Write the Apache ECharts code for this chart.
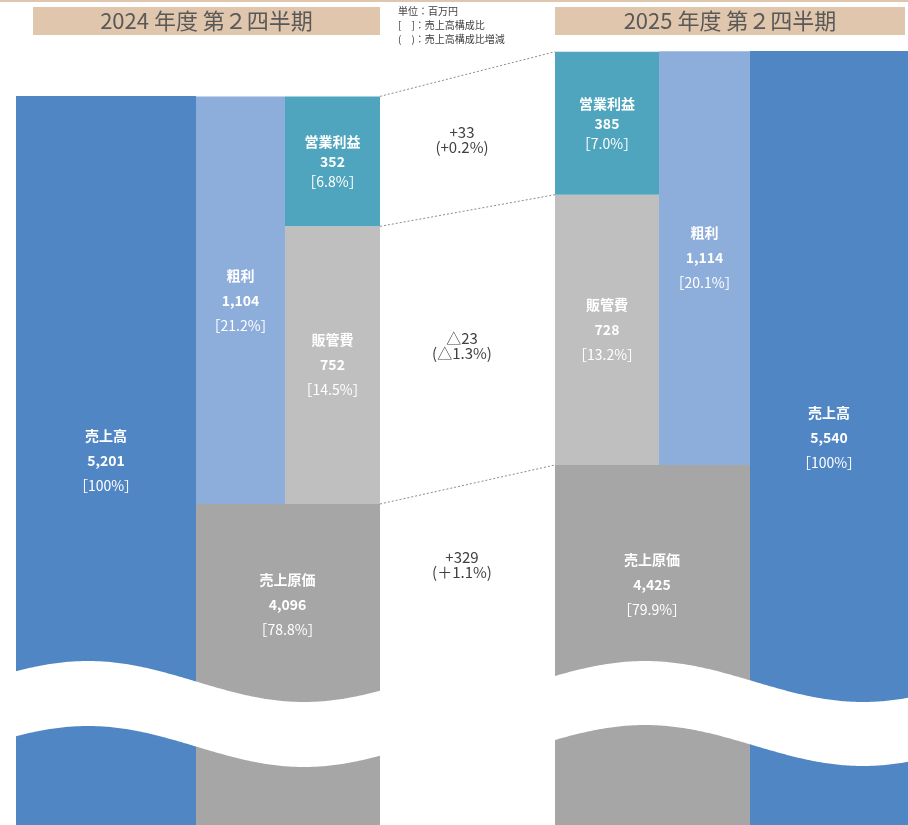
<!DOCTYPE html>
<html><head><meta charset="utf-8">
<script src="https://cdn.jsdelivr.net/npm/echarts@6/dist/echarts.min.js"></script>
<style>html,body{margin:0;padding:0;background:#fff}#c{width:908px;height:825px}</style>
</head><body><div id="c"></div>
<script>
// ---- data ----
const periods = ['2024 年度 第２四半期', '2025 年度 第２四半期'];
const sales = [5201, 5540];
const costOfSales = [4096, 4425];
const grossProfit = [1104, 1114];
const sgaExpenses = [752, 728];
const operatingProfit = [352, 385];
const salesRatio = ['100%', '100%'];
const costRatio = ['78.8%', '79.9%'];
const grossRatio = ['21.2%', '20.1%'];
const sgaRatio = ['14.5%', '13.2%'];
const opRatio = ['6.8%', '7.0%'];
const changeAmount = ['+33', '△23', '+329'];
const changeRatio = ['(+0.2%)', '(△1.3%)', '(＋1.1%)'];
const noteLines = ['単位：百万円', '[　]：売上高構成比', '(　)：売上高構成比増減'];
const names = { sales: '売上高', cost: '売上原価', gross: '粗利', sga: '販管費', op: '営業利益' };

// ---- style ----
const FONT = '"Noto Sans CJK JP", "Noto Sans", sans-serif';
const C = { sales: '#5186C5', gross: '#8DADDA', op: '#4EA5BD', sga: '#BFBFBF', cost: '#A6A6A6', tan: '#E0C6AC', text: '#404040' };
const cols = [
  { left: 16, width: 180 }, { left: 196, width: 89 }, { left: 285, width: 95 },
  { left: 555, width: 104 }, { left: 659, width: 91 }, { left: 750, width: 158 }
];
const yRange = [[3226.6, 5352.7], [3455.4, 5569.6]];

const fmt = v => v.toLocaleString('en-US');
function segLabel(name, value, ratio, lh, offset) {
  const st = { color: '#fff', fontSize: 14, fontFamily: FONT, lineHeight: lh };
  return {
    show: true, position: 'inside', offset: offset || [0, 0],
    formatter: `{n|${name}}\n{v|${fmt(value)}}\n{p|［${ratio}］}`,
    rich: { n: { ...st, fontWeight: 'bold' }, v: { ...st, fontWeight: 'bold' }, p: { ...st, fontWeight: 'normal' } }
  };
}
function bar(idx, value, color, stack, label) {
  return {
    type: 'bar', xAxisIndex: idx, yAxisIndex: idx, data: [value], stack: stack,
    barWidth: '100%', itemStyle: { color: color }, label: label || { show: false },
    silent: true, emphasis: { disabled: true }, clip: true
  };
}

const grid = cols.map(c => ({ left: c.left, width: c.width, top: 40, bottom: 0 }));
const xAxis = cols.map((c, i) => ({ type: 'category', gridIndex: i, data: ['x'], show: false }));
const yAxis = cols.map((c, i) => {
  const side = i < 3 ? 0 : 1;
  return { type: 'value', gridIndex: i, min: yRange[side][0], max: yRange[side][1], show: false, splitLine: { show: false } };
});

const series = [
  // 2024
  bar(0, sales[0], C.sales, null, segLabel(names.sales, sales[0], salesRatio[0], 25)),
  bar(1, costOfSales[0], C.cost, 'L1', segLabel(names.cost, costOfSales[0], costRatio[0], 25, [47, -60])),
  bar(1, grossProfit[0], C.gross, 'L1', segLabel(names.gross, grossProfit[0], grossRatio[0], 25)),
  bar(2, costOfSales[0], C.cost, 'L2'),
  bar(2, sgaExpenses[0], C.sga, 'L2', segLabel(names.sga, sgaExpenses[0], sgaRatio[0], 25)),
  bar(2, operatingProfit[0], C.op, 'L2', segLabel(names.op, operatingProfit[0], opRatio[0], 20)),
  // 2025
  bar(3, costOfSales[1], C.cost, 'R1', segLabel(names.cost, costOfSales[1], costRatio[1], 25, [45, -60])),
  bar(3, sgaExpenses[1], C.sga, 'R1', segLabel(names.sga, sgaExpenses[1], sgaRatio[1], 25)),
  bar(3, operatingProfit[1], C.op, 'R1', segLabel(names.op, operatingProfit[1], opRatio[1], 20)),
  bar(4, costOfSales[1], C.cost, 'R2'),
  bar(4, grossProfit[1], C.gross, 'R2', segLabel(names.gross, grossProfit[1], grossRatio[1], 25)),
  bar(5, sales[1], C.sales, null, segLabel(names.sales, sales[1], salesRatio[1], 25))
];

const chart = echarts.init(document.getElementById('c'), null, { renderer: 'canvas' });
chart.setOption({ animation: false, backgroundColor: '#fff', grid, xAxis, yAxis, series });

// ---- decorations computed from the axes ----
const yL = v => chart.convertToPixel({ yAxisIndex: 2 }, v);
const yR = v => chart.convertToPixel({ yAxisIndex: 3 }, v);
const xA = cols[2].left + cols[2].width, xB = cols[3].left;
const pairs = [
  [costOfSales[0] + sgaExpenses[0] + operatingProfit[0], costOfSales[1] + sgaExpenses[1] + operatingProfit[1]],
  [costOfSales[0] + sgaExpenses[0], costOfSales[1] + sgaExpenses[1]],
  [costOfSales[0], costOfSales[1]]
];
const linePts = pairs.map(p => [yL(p[0]), yR(p[1])]);
const midX = 462;
const t = (midX - xA) / (xB - xA);
const yAt = lp => lp[0] + t * (lp[1] - lp[0]);
const labelY = [
  (yAt(linePts[0]) + yAt(linePts[1])) / 2 - 4,
  (yAt(linePts[1]) + yAt(linePts[2])) / 2 - 3,
  yAt(linePts[2]) + 79
];

function wave(x0, x1, xPeak, half, mid, amp, thick) {
  const up = [], low = [];
  for (let x = x0; x <= x1; x += 2) {
    const y = mid - amp * Math.cos(Math.PI * (x - xPeak) / half);
    up.push([x, y]); low.push([x, y + thick]);
  }
  return up.concat(low.reverse());
}

const graphic = [
  { type: 'rect', shape: { x: 0, y: 0, width: 908, height: 2 }, style: { fill: C.tan }, silent: true },
  { type: 'rect', shape: { x: 33, y: 7, width: 347, height: 28 }, style: { fill: C.tan }, silent: true },
  { type: 'rect', shape: { x: 555, y: 7, width: 350, height: 28 }, style: { fill: C.tan }, silent: true },
  { type: 'text', x: 206.5, y: 21, style: { text: periods[0], fill: '#595959', font: '22px ' + FONT, align: 'center', verticalAlign: 'middle', textAlign: 'center', textVerticalAlign: 'middle' }, silent: true },
  { type: 'text', x: 730, y: 21, style: { text: periods[1], fill: '#595959', font: '22px ' + FONT, align: 'center', verticalAlign: 'middle', textAlign: 'center', textVerticalAlign: 'middle' }, silent: true },
  { type: 'polygon', shape: { points: wave(14, 382, 88, 216, 681.5, 20.5, 65) }, style: { fill: '#fff' }, z: 100, silent: true },
  { type: 'polygon', shape: { points: wave(553, 910, 645, 218, 681.5, 20.5, 64) }, style: { fill: '#fff' }, z: 100, silent: true }
];
noteLines.forEach((s, i) => graphic.push({
  type: 'text', x: 398, y: 11 + i * 14,
  style: { text: s, fill: C.text, font: '10px ' + FONT, align: 'left', verticalAlign: 'middle', textAlign: 'left', textVerticalAlign: 'middle' }, silent: true
}));
linePts.forEach(lp => graphic.push({
  type: 'line', shape: { x1: xA, y1: lp[0], x2: xB, y2: lp[1] },
  style: { stroke: '#8C8C8C', lineWidth: 1, lineDash: [2, 2] }, z: 100, silent: true
}));
changeAmount.forEach((a, i) => graphic.push({
  type: 'text', x: midX, y: labelY[i],
  style: { text: a + '\n' + changeRatio[i], fill: C.text, font: '15px ' + FONT, lineHeight: 15, align: 'center', verticalAlign: 'middle', textAlign: 'center', textVerticalAlign: 'middle' }, silent: true
}));
chart.setOption({ graphic: graphic });
</script>
</body></html>
